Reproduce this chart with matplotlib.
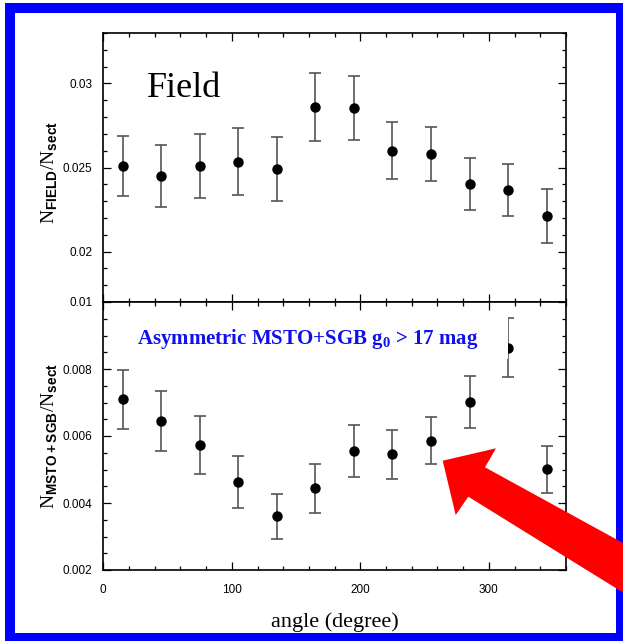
import matplotlib
matplotlib.use('Agg')
from matplotlib import pyplot as plt
from matplotlib.patches import Rectangle, Polygon
from matplotlib.ticker import MultipleLocator, FuncFormatter

plt.rcParams['mathtext.fontset'] = 'custom'
plt.rcParams['mathtext.rm'] = 'Liberation Serif'
plt.rcParams['mathtext.sf'] = 'Liberation Sans:bold'
plt.rcParams['mathtext.bf'] = 'Liberation Serif:bold'

# sector angles (degree)
angles = [15, 45, 75, 105, 135, 165, 195, 225, 255, 285, 315, 345]

# N_FIELD / N_sect
field = [0.02509, 0.02451, 0.02511, 0.02535, 0.02491, 0.02860,
         0.02854, 0.02600, 0.02580, 0.02401, 0.02365, 0.02211]
field_err = [0.00180, 0.00185, 0.00190, 0.00200, 0.00193, 0.00203,
             0.00193, 0.00170, 0.00162, 0.00154, 0.00155, 0.00163]

# N_MSTO+SGB / N_sect
msto = [0.00710, 0.00645, 0.00573, 0.00462, 0.00361, 0.00444,
        0.00555, 0.00545, 0.00586, 0.00701, 0.00864, 0.00501]
msto_err = [0.00088, 0.00089, 0.00086, 0.00078, 0.00067, 0.00073,
            0.00077, 0.00072, 0.00070, 0.00077, 0.00088, 0.00070]

W, H = 623, 641
fig = plt.figure(figsize=(W / 100, H / 100), dpi=100)
fig.patch.set_facecolor('white')


def px(x, y):
    # pixel position (from top-left) -> figure fraction
    return (x / W, 1 - y / H)


left, right = px(103.3, 0)[0], px(566, 0)[0]
y_top, y_mid, y_bot = px(0, 33)[1], px(0, 302)[1], px(0, 570)[1]
ax1 = fig.add_axes([left, y_mid, right - left, y_top - y_mid])
ax2 = fig.add_axes([left, y_bot, right - left, y_mid - y_bot], sharex=ax1)

fmt = FuncFormatter(lambda v, p: '%g' % round(v, 4))
for ax, vals, errs in ((ax1, field, field_err), (ax2, msto, msto_err)):
    ax.errorbar(angles, vals, yerr=errs, fmt='o', color='black',
                ecolor='#555555', elinewidth=1.2, capsize=4, capthick=1.2,
                markersize=6.5, zorder=3)
    ax.set_xlim(0, 360)
    ax.xaxis.set_major_locator(MultipleLocator(100))
    ax.xaxis.set_minor_locator(MultipleLocator(20))
    ax.tick_params(which='both', direction='in', top=True, right=True,
                   labelsize=8.5, width=0.9)
    ax.tick_params(which='major', length=6)
    ax.tick_params(which='minor', length=3)
    ax.tick_params(axis='y', pad=8)
    ax.tick_params(axis='x', pad=10)
    ax.yaxis.set_major_formatter(fmt)
    for s in ax.spines.values():
        s.set_linewidth(1.2)
    for lab in ax.get_xticklabels() + ax.get_yticklabels():
        lab.set_family('Liberation Sans')

ax1.set_ylim(0.017, 0.033)
ax1.yaxis.set_major_locator(MultipleLocator(0.005))
ax1.yaxis.set_minor_locator(MultipleLocator(0.001))
ax1.tick_params(labelbottom=False)
ax1.set_ylabel(r'$\mathrm{N}_{\mathsf{FIELD}}/\mathrm{N}_{\mathsf{sect}}$', fontsize=14)
ax1.yaxis.set_label_coords(-0.093, 0.48)
ax1.text(34, 0.02922, 'Field', family='Liberation Serif', fontsize=26)

ax2.set_ylim(0.002, 0.010)
ax2.yaxis.set_major_locator(MultipleLocator(0.002))
ax2.yaxis.set_minor_locator(MultipleLocator(0.0005))
ax2.set_ylabel(r'$\mathrm{N}_{\mathsf{MSTO+SGB}}/\mathrm{N}_{\mathsf{sect}}$', fontsize=14)
ax2.yaxis.set_label_coords(-0.093, 0.5)
ax2.set_xlabel('angle (degree)', family='Liberation Serif', fontsize=16,
               labelpad=12)
ax2.text(26, 0.0089, r'Asymmetric MSTO+SGB $\mathbf{g_0}$ > 17 mag',
         family='Liberation Serif', weight='bold', fontsize=15,
         color='#1010ee', va='center')

# white patch hiding part of the 315 degree point
ax2.add_patch(Rectangle((307, 0.0083), 8, 0.0014, facecolor='white',
                        edgecolor='none', zorder=4))

# blue frame
fx0, fy1 = px(10, 8)
fx1, fy0 = px(621, 638)
fig.add_artist(Rectangle((fx0, fy0), fx1 - fx0, fy1 - fy0, fill=False,
                         edgecolor='#0000ff', linewidth=7.2,
                         transform=fig.transFigure, zorder=5))

# red arrow
arrow_px = [(442.7, 460.7), (496, 448.3), (485, 467.3), (665, 566),
           (648, 608), (468.3, 496.7), (455.7, 515)]
fig.add_artist(Polygon([px(x, y) for x, y in arrow_px], closed=True,
                       facecolor='#ff0000', edgecolor='none',
                       transform=fig.transFigure, zorder=6))

fig.savefig('out.png', dpi=100)
